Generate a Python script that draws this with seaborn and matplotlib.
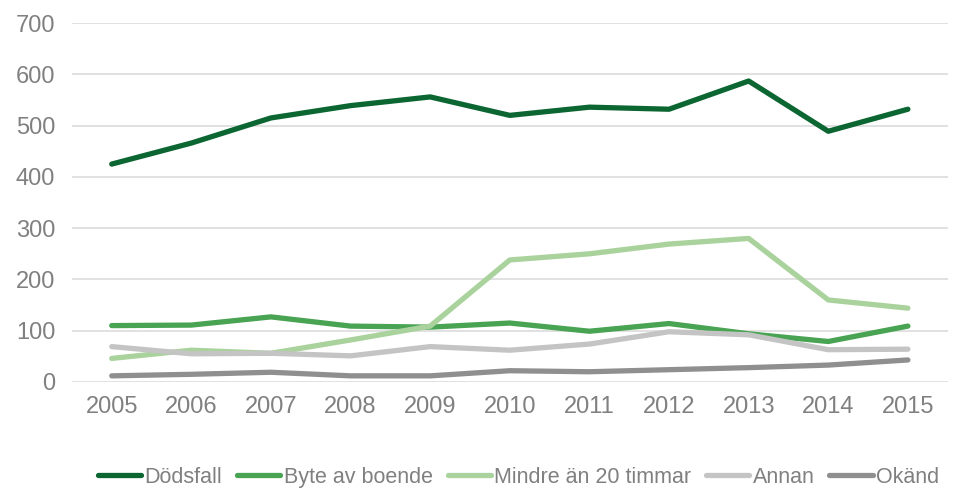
import pandas as pd
import matplotlib
matplotlib.use('Agg')
import matplotlib.pyplot as plt
import seaborn as sns

# data
years = list(range(2005, 2016))
dodsfall = [425, 466, 515, 539, 556, 520, 536, 532, 587, 489, 532]
byte_av_boende = [110, 111, 127, 109, 107, 115, 99, 114, 94, 79, 109]
mindre_an_20 = [46, 62, 56, 82, 109, 238, 250, 269, 280, 160, 144]
annan = [69, 55, 56, 51, 69, 62, 74, 98, 92, 63, 64]
okand = [12, 15, 19, 12, 12, 22, 20, 24, 28, 33, 43]

series = {
    'Dödsfall': dodsfall,
    'Byte av boende': byte_av_boende,
    'Mindre än 20 timmar': mindre_an_20,
    'Annan': annan,
    'Okänd': okand,
}
colors = ['#0b6632', '#48a352', '#a9d29c', '#c4c4c4', '#8f8f8f']
grey = '#808080'

# setup
sns.set_theme(style='white')
plt.rcParams['font.family'] = ['Liberation Sans', 'DejaVu Sans']
plt.close('all')

df = pd.DataFrame([
    {'year': y, 'value': v, 'kategori': name}
    for name, vals in series.items()
    for y, v in zip(years, vals)
])

fig = plt.figure(figsize=(9.72, 4.91), dpi=100)
ax = fig.add_axes([0.074, 0.222, 0.901, 0.731])
sns.lineplot(data=df, x='year', y='value', hue='kategori', palette=colors,
             linewidth=3.8, ax=ax, legend=True, solid_capstyle='round')

ax.set_xlim(2004.5, 2015.5)
ax.set_ylim(0, 700)
ax.set_xticks(years)
ax.set_yticks(range(0, 701, 100))
ax.set_xlabel('')
ax.set_ylabel('')
ax.grid(axis='y', color='#d9d9d9', linewidth=1.1)
ax.set_axisbelow(True)
sns.despine(ax=ax, left=True, bottom=True)
ax.tick_params(axis='both', length=0, labelsize=17, labelcolor=grey)
ax.tick_params(axis='x', pad=10)
ax.tick_params(axis='y', pad=12)

handles, labels = ax.get_legend_handles_labels()
for h in handles:
    h.set_linewidth(3.8)
ax.legend(handles, labels, loc='center', bbox_to_anchor=(0.51, -0.265),
          ncol=5, frameon=False, fontsize=15.5, labelcolor=grey,
          handlelength=2.0, handletextpad=0.15, columnspacing=0.7,
          borderaxespad=0)

fig.savefig('out.png', dpi=100)
